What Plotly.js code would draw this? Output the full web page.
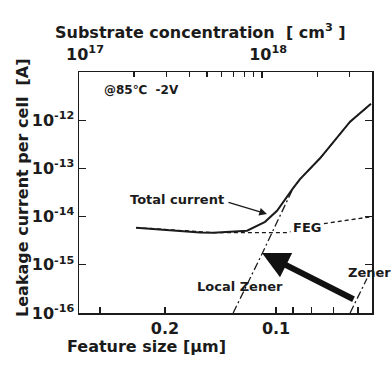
<!DOCTYPE html>
<html>
<head>
<meta charset="utf-8">
<script src="https://cdn.plot.ly/plotly-3.0.1.min.js"></script>
<style>html,body{margin:0;padding:0;background:#fff;}</style>
</head>
<body>
<div id="chart" style="width:391px;height:369px;"></div>
<script>
// Feature size [um] and leakage current [A]
const totalX = [0.2395, 0.1607, 0.148, 0.1198, 0.1071, 0.0994, 0.0899, 0.0861, 0.0760, 0.0630, 0.0553];
const totalY = [5.9e-15, 4.7e-15, 4.65e-15, 5.1e-15, 7.8e-15, 1.32e-14, 3.9e-14, 6.0e-14, 1.62e-13, 9.3e-13, 2.19e-12];
const fegX = [0.2395, 0.148, 0.1198, 0.0934, 0.0746, 0.0549];
const fegY = [5.9e-15, 4.65e-15, 4.65e-15, 4.65e-15, 7.1e-15, 1.0e-14];
const localZenerX = [0.1307, 0.1091, 0.0899, 0.0861, 0.0760, 0.0630, 0.0553];
const localZenerY = [1e-16, 1.7e-15, 3.9e-14, 6.0e-14, 1.62e-13, 9.3e-13, 2.19e-12];
const zenerX = [0.0630, 0.0567];
const zenerY = [1e-16, 5.2e-16];

// substrate concentration axis (top) [cm^-3]
const concRange = [1e17, 3.98e18];

const xTickVals = [0.2, 0.1];
const xTickText = ['0.2', '0.1'];
const xMinorVals = [0.3, 0.09, 0.08, 0.07, 0.06];
const topTickVals = [1e17, 1e18];
const topTickText = ['10<sup>17</sup>', '10<sup>18</sup>'];
const topMinorVals = [2e17, 3e17, 4e17, 5e17, 6e17, 7e17, 8e17, 9e17, 2e18, 3e18];
const yTickVals = [1e-16, 1e-15, 1e-14, 1e-13, 1e-12];
const yTickText = ['10<sup>-16</sup>', '10<sup>-15</sup>', '10<sup>-14</sup>', '10<sup>-13</sup>', '10<sup>-12</sup>'];

const INK = '#1b1b1b';
const FONT = 'DejaVu Sans, Liberation Sans, Arial, sans-serif';

const traces = [
  {x: fegX, y: fegY, mode: 'lines', line: {color: INK, width: 1.4, dash: '4px,3px'}, showlegend: false, hoverinfo: 'skip'},
  {x: localZenerX, y: localZenerY, mode: 'lines', line: {color: INK, width: 1.3, dash: '8px,3px,2px,3px'}, showlegend: false, hoverinfo: 'skip'},
  {x: zenerX, y: zenerY, mode: 'lines', line: {color: INK, width: 1.3, dash: '8px,3px,2px,3px'}, showlegend: false, hoverinfo: 'skip'},
  {x: totalX, y: totalY, mode: 'lines', line: {color: INK, width: 2}, showlegend: false, hoverinfo: 'skip'},
  // empty trace that only attaches the top concentration axis
  {x: concRange, y: concRange.map(() => null), xaxis: 'x2', yaxis: 'y', mode: 'lines', showlegend: false, hoverinfo: 'skip'}
];

const lblFont = {family: FONT, size: 13, color: INK, weight: 'bold'};
const tickFont = {family: FONT, size: 16, color: INK, weight: 'bold'};

const layout = {
  width: 391, height: 369,
  margin: {l: 79, r: 19, t: 72, b: 56, pad: 0},
  paper_bgcolor: '#fff', plot_bgcolor: '#fff',
  showlegend: false,
  font: {family: FONT, color: INK},
  xaxis: {
    type: 'log', range: [-0.466, -1.260],
    tickmode: 'array', tickvals: xTickVals, ticktext: xTickText,
    ticks: 'inside', ticklen: 6, tickwidth: 1.3, tickcolor: INK,
    minor: {tickmode: 'array', tickvals: xMinorVals, ticks: 'inside', ticklen: 6, tickwidth: 1.3, tickcolor: INK, showgrid: false},
    showline: true, linecolor: INK, linewidth: 1.5, mirror: true,
    showgrid: false, zeroline: false,
    tickfont: tickFont
  },
  xaxis2: {
    type: 'log', overlaying: 'x', side: 'top', anchor: 'y',
    range: [17, 18.6],
    tickmode: 'array', tickvals: topTickVals, ticktext: topTickText,
    ticks: 'inside', ticklen: 6, tickwidth: 1.3, tickcolor: INK,
    ticklabelstandoff: 8, ticklabelshift: 6,
    minor: {tickmode: 'array', tickvals: topMinorVals, ticks: 'inside', ticklen: 5, tickwidth: 1.3, tickcolor: INK, showgrid: false},
    showline: false, showgrid: false, zeroline: false,
    tickfont: tickFont
  },
  yaxis: {
    type: 'log', range: [-16, -11],
    tickmode: 'array', tickvals: yTickVals, ticktext: yTickText,
    ticks: 'inside', ticklen: 7, tickwidth: 1.3, tickcolor: INK,
    showline: true, linecolor: INK, linewidth: 1.5, mirror: 'ticks',
    showgrid: false, zeroline: false,
    tickfont: tickFont
  },
  annotations: [
    {text: 'Feature size [μm]', xref: 'paper', yref: 'paper', x: 0.232, y: -0.138, xanchor: 'center', yanchor: 'middle', showarrow: false, font: {family: FONT, size: 16, color: INK, weight: 'bold'}},
    {text: 'Substrate concentration  [ cm<sup>3</sup> ]', xref: 'paper', yref: 'paper', x: 0.416, y: 1.166, xanchor: 'center', yanchor: 'middle', showarrow: false, font: {family: FONT, size: 16, color: INK, weight: 'bold'}},
    {text: 'Leakage current per cell  [A]', xref: 'paper', yref: 'paper', x: -0.191, y: 0.519, xanchor: 'center', yanchor: 'middle', textangle: -90, showarrow: false, font: {family: FONT, size: 16, color: INK, weight: 'bold'}},
    {text: '@85℃  -2V', xref: 'paper', yref: 'paper', x: 0.212, y: 0.925, xanchor: 'center', yanchor: 'middle', showarrow: false, font: {family: FONT, size: 12, color: INK, weight: 'bold'}},
    {text: 'Total current', xref: 'paper', yref: 'paper', x: 0.3345, y: 0.473, xanchor: 'center', yanchor: 'middle', showarrow: false, font: lblFont},
    {text: 'FEG', xref: 'paper', yref: 'paper', x: 0.778, y: 0.353, xanchor: 'center', yanchor: 'middle', showarrow: false, bgcolor: '#fff', borderpad: 2, font: lblFont},
    {text: 'Local Zener', xref: 'paper', yref: 'paper', x: 0.549, y: 0.108, xanchor: 'center', yanchor: 'middle', showarrow: false, font: lblFont},
    {text: 'Zener', xref: 'paper', yref: 'paper', x: 0.993, y: 0.170, xanchor: 'center', yanchor: 'middle', showarrow: false, font: lblFont},
    {text: '', xref: 'paper', yref: 'paper', x: 0.6416, y: 0.4108, ax: -40, ay: -12, showarrow: true, arrowhead: 2, arrowsize: 1.1, arrowwidth: 1.4, arrowcolor: INK},
    {text: '', xref: 'paper', yref: 'paper', x: 0.6246, y: 0.249, ax: 93, ay: 47, showarrow: true, arrowhead: 2, arrowsize: 0.9, arrowwidth: 6, arrowcolor: '#111'}
  ]
};

Plotly.newPlot('chart', traces, layout, {staticPlot: true, displayModeBar: false});
</script>
</body>
</html>
